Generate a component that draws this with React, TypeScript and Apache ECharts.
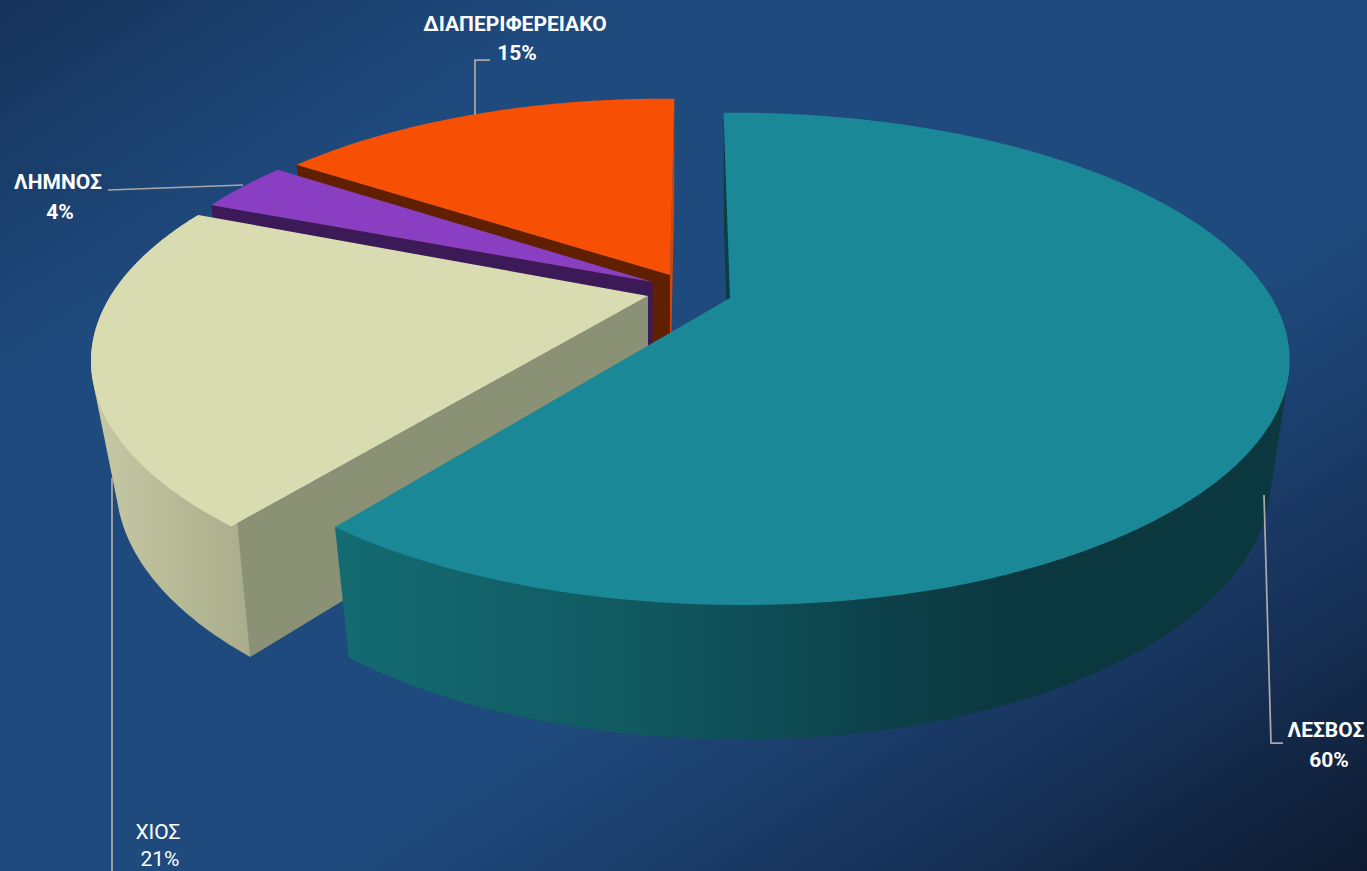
import React, { useEffect, useRef } from "react";
import * as echarts from "echarts";

// Drawing order: back slices first, clockwise angles counted back from 360 degrees.
const CATEGORIES = ["ΔΙΑΠΕΡΙΦΕΡΕΙΑΚΟ", "ΛΗΜΝΟΣ", "ΧΙΟΣ", "ΛΕΣΒΟΣ"];
const VALUES = [15, 4, 21, 60];

const TOP_COLORS = ["#f74f04", "#8a3fc2", "#d8dcb0", "#1a8896"];
const FONT = "Roboto";

// Perspective projection of the pie's disc
const RX = 540;
const RY = 231.7;
const PERSPECTIVE = 0.245;
const DEPTH = 119;
const BOTTOM_SY = 1.05;

// Per-slice exploded layout (apex on screen, radius factors, angle corrections, wall paints)
const LAYOUT: any[] = [
  { cx: 670, cy: 275, rs: [0.95, 0.935], sx: 0.965, da0: -1.5, da1: 0.6, lowWall: "#602000", highWall: "#d0480c", outer: null },
  { cx: 652.5, cy: 282, rs: [0.96, 0.96], sx: 0.965, da0: 0.5, da1: -1.1, lowWall: "#3c1a58", highWall: null, outer: null },
  {
    cx: 648, cy: 296, rs: [1.012, 0.988], sx: 0.955, da0: 1.8, da1: 1.2, lowWall: "#8b9174", highWall: null,
    outer: [[0, "#c6c9a4"], [0.5, "#b8bb97"], [1, "#a9ad8c"]],
  },
  {
    cx: 730, cy: 298, rs: [0.995, 1.0, 1.005, 1.005, 0.99], sx: 0.965, da0: -0.85, da1: 0.5, lowWall: "#0b3d45", highWall: null,
    wallFrom: 60,
    outer: [[0, "#146b72"], [0.3, "#115a62"], [0.55, "#0d434c"], [0.72, "#0b373f"], [1, "#0b373f"]],
  },
];

const LABELS = [
  { nameXY: [515, 24], valueXY: [517, 53], bold: true, line: [[475, 115], [475, 60], [490, 60]] },
  { nameXY: [58, 182], valueXY: [60, 212], bold: true, line: [[108, 190], [243, 185]] },
  { nameXY: [158, 832], valueXY: [160, 859], bold: false, line: [[112, 478], [112, 871]] },
  { nameXY: [1326, 730], valueXY: [1329, 760], bold: true, line: [[1264, 495], [1271, 743], [1283, 743]] },
];

function radiusAt(rs: number[], t: number): number {
  if (rs.length === 1) return rs[0];
  const f = Math.min(Math.max(t, 0), 1) * (rs.length - 1);
  const k = Math.min(Math.floor(f), rs.length - 2);
  return rs[k] + (rs[k + 1] - rs[k]) * (f - k);
}

function project(s: any, angle: number, a0: number, a1: number, bottom: boolean): number[] {
  const rad = (angle * Math.PI) / 180;
  const r = radiusAt(s.rs, (angle - a0) / (a1 - a0));
  const u = r * Math.sin(rad);
  const v = -r * Math.cos(rad);
  const d = 1 - PERSPECTIVE * v;
  let x = (RX * u) / d;
  let y = (RY * v) / d;
  if (bottom) {
    x *= s.sx;
    y = y * BOTTOM_SY + DEPTH;
  }
  return [s.cx + x, s.cy + y];
}

function arc(s: any, from: number, to: number, a0: number, a1: number, bottom: boolean): number[][] {
  const n = Math.max(2, Math.ceil(Math.abs(to - from) * 2));
  const pts: number[][] = [];
  for (let i = 0; i <= n; i++) pts.push(project(s, from + ((to - from) * i) / n, a0, a1, bottom));
  return pts;
}

function convexHull(points: number[][]): number[][] {
  const p = [...points].sort((a, b) => a[0] - b[0] || a[1] - b[1]);
  const cross = (o: number[], a: number[], b: number[]) =>
    (a[0] - o[0]) * (b[1] - o[1]) - (a[1] - o[1]) * (b[0] - o[0]);
  const lower: number[][] = [];
  for (const q of p) {
    while (lower.length >= 2 && cross(lower[lower.length - 2], lower[lower.length - 1], q) <= 0) lower.pop();
    lower.push(q);
  }
  const upper: number[][] = [];
  for (let i = p.length - 1; i >= 0; i--) {
    const q = p[i];
    while (upper.length >= 2 && cross(upper[upper.length - 2], upper[upper.length - 1], q) <= 0) upper.pop();
    upper.push(q);
  }
  return [...lower.slice(0, -1), ...upper.slice(0, -1)];
}

function sliceAngles(index: number): number[] {
  const total = VALUES.reduce((a, b) => a + b, 0);
  let end = 360;
  for (let i = 0; i < index; i++) end -= (VALUES[i] / total) * 360;
  const start = end - (VALUES[index] / total) * 360;
  const s = LAYOUT[index];
  return [start + s.da0, end + s.da1];
}

function radialWall(s: any, a: number, a0: number, a1: number, fill: string) {
  return {
    type: "polygon",
    shape: {
      points: [
        [s.cx, s.cy],
        project(s, a, a0, a1, false),
        project(s, a, a0, a1, true),
        [s.cx, s.cy + DEPTH],
      ],
    },
    style: { fill },
  };
}

function renderSlice(params: any, api: any) {
  const i = params.dataIndex;
  const s: any = LAYOUT[i];
  const [a0, a1] = sliceAngles(i);
  const children: any[] = [];

  if (s.lowWall) children.push(radialWall(s, a0, a0, a1, s.lowWall));
  if (s.highWall) children.push(radialWall(s, a1, a0, a1, s.highWall));

  if (s.outer) {
    const from = s.wallFrom ?? a0;
    const hull = convexHull([...arc(s, from, a1, a0, a1, false), ...arc(s, from, a1, a0, a1, true)]);
    children.push({
      type: "polygon",
      shape: { points: hull },
      style: {
        fill: new echarts.graphic.LinearGradient(
          0, 0, 1, 0,
          s.outer.map((c: any) => ({ offset: c[0], color: c[1] }))
        ),
      },
    });
  }

  children.push({
    type: "polygon",
    shape: { points: [[s.cx, s.cy], ...arc(s, a0, a1, a0, a1, false)] },
    style: { fill: api.visual("color") },
  });

  const lab = LABELS[i];
  children.push({
    type: "polyline",
    shape: { points: lab.line },
    style: { stroke: "#a8a8a8", lineWidth: 1.75, fill: null },
  });
  const font = `${lab.bold ? "bold " : ""}21px ${FONT}`;
  children.push({
    type: "text",
    x: lab.nameXY[0],
    y: lab.nameXY[1],
    style: { text: CATEGORIES[i], fill: "#ffffff", font, textAlign: "center", textVerticalAlign: "middle" },
  });
  children.push({
    type: "text",
    x: lab.valueXY[0],
    y: lab.valueXY[1],
    style: { text: `${VALUES[i]}%`, fill: "#ffffff", font, textAlign: "center", textVerticalAlign: "middle" },
  });

  return { type: "group", children };
}

export default function App() {
  const ref = useRef<HTMLDivElement>(null);
  useEffect(() => {
    document.body.style.margin = "0";
    const chart = echarts.init(ref.current!, undefined, { renderer: "svg" });
    chart.setOption({
      animation: false,
      backgroundColor: new echarts.graphic.LinearGradient(0, 0, 1, 1, [
        { offset: 0, color: "#16335a" },
        { offset: 0.22, color: "#1f4a7d" },
        { offset: 0.62, color: "#1f4a7d" },
        { offset: 0.8, color: "#18355e" },
        { offset: 1, color: "#0e1a2f" },
      ]),
      series: [
        {
          type: "custom",
          coordinateSystem: "none",
          renderItem: renderSlice,
          data: VALUES.map((v, i) => ({
            name: CATEGORIES[i],
            value: [v],
            itemStyle: { color: TOP_COLORS[i] },
          })),
        },
      ],
    });
    return () => chart.dispose();
  }, []);
  return <div ref={ref} style={{ width: 1367, height: 871 }} />;
}
